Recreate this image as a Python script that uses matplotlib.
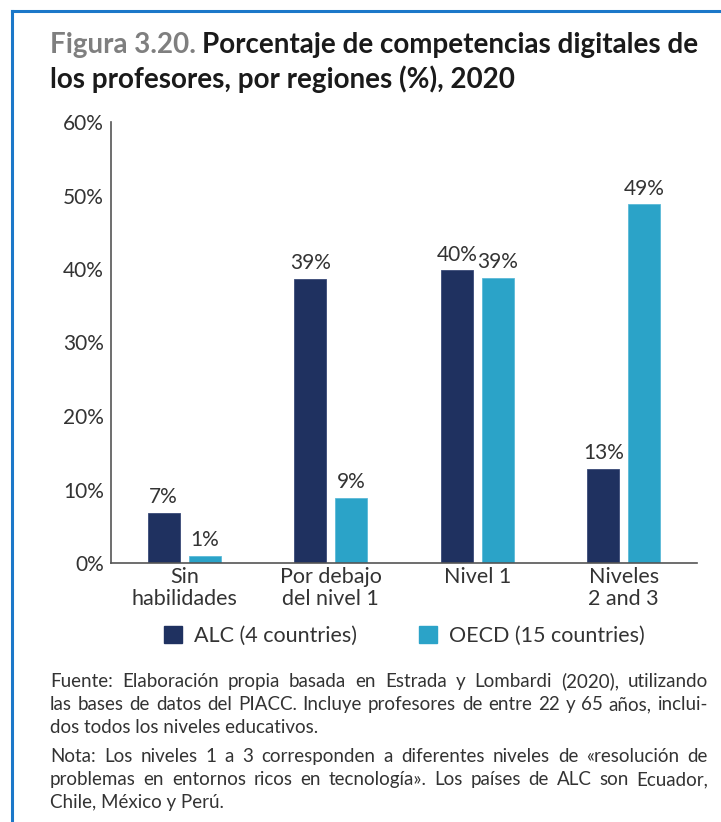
import numpy as np
import matplotlib.pyplot as plt
from matplotlib.lines import Line2D
from matplotlib.patches import Patch

# data
categories = ["Sin\nhabilidades", "Por debajo\ndel nivel 1", "Nivel 1", "Niveles\n2 and 3"]
alc = [6.8, 38.7, 39.8, 12.8]
oecd = [1.0, 8.9, 38.8, 48.8]
alc_labels = ["7%", "39%", "40%", "13%"]
oecd_labels = ["1%", "9%", "39%", "49%"]
yticks = [0, 10, 20, 30, 40, 50, 60]

NAVY = "#1f3160"
CYAN = "#2ba3c8"
TXT = "#333333"
FONT = "Lato"

plt.rcParams["font.family"] = [FONT, "DejaVu Sans"]

W, H = 721, 822
fig = plt.figure(figsize=(W / 100, H / 100), dpi=100)
ax = fig.add_axes([111 / W, 1 - 563 / H, (697 - 111) / W, (563 - 122) / H])

x = np.arange(len(categories))
off = 0.14
bw = 0.22
b1 = ax.bar(x - off, alc, bw, color=NAVY, edgecolor="#3a4a78", linewidth=0.6)
b2 = ax.bar(x + off, oecd, bw, color=CYAN, edgecolor="#5bbad8", linewidth=0.6)
for bars, labs in ((b1, alc_labels), (b2, oecd_labels)):
    for r, lab in zip(bars, labs):
        ax.annotate(lab, (r.get_x() + r.get_width() / 2, r.get_height()),
                    xytext=(0, 4), textcoords="offset points", ha="center",
                    va="bottom", fontsize=15, color=TXT)

ax.set_xlim(-0.5, 3.5)
ax.set_ylim(0, 60)
ax.set_yticks(yticks)
ax.set_yticklabels([f"{v}%" for v in yticks], fontsize=15, color=TXT)
ax.set_xticks(x)
ax.set_xticklabels(categories, fontsize=15.5, color=TXT, linespacing=1.1)
ax.tick_params(axis="y", length=0, pad=5)
ax.tick_params(axis="x", length=0, pad=3)
for s in ("top", "right"):
    ax.spines[s].set_visible(False)
for s in ("left", "bottom"):
    ax.spines[s].set_color("#555555")
    ax.spines[s].set_linewidth(1.2)

for col, lab, lx in ((NAVY, "ALC (4 countries)", 164), (CYAN, "OECD (15 countries)", 419)):
    fig.legend(handles=[Patch(color=col, label=lab)], loc="center left",
               bbox_to_anchor=(lx / W, 1 - 636 / H), frameon=False,
               fontsize=15.5, handlelength=0.85, handleheight=0.85,
               handletextpad=0.55, borderpad=0, borderaxespad=0,
               labelcolor=TXT)

# blue frame
fig.add_artist(Line2D([12 / W, 1], [1 - 11 / H] * 2, color="#1b78c9", lw=2.2))
fig.add_artist(Line2D([12 / W] * 2, [0, 1 - 11 / H], color="#1b78c9", lw=2.2))

fig.canvas.draw()
rend = fig.canvas.get_renderer()


def width(t):
    return t.get_window_extent(rend).width


# title
x0 = 50
t1 = fig.text(x0 / W, 1 - 53 / H, "Figura 3.20.", fontsize=20, weight="bold",
              color="#7f7f7f")
fig.text((x0 + width(t1) + 6) / W, 1 - 53 / H,
         "Porcentaje de competencias digitales de", fontsize=20,
         weight="bold", color="#1a1a1a")
fig.text(x0 / W, 1 - 88 / H, "los profesores, por regiones (%), 2020",
         fontsize=20, weight="bold", color="#1a1a1a")

# footer, justified
paras = [
    ["Fuente: Elaboración propia basada en Estrada y Lombardi (2020), utilizando",
     "las bases de datos del PIACC. Incluye profesores de entre 22 y 65 años, inclui-",
     "dos todos los niveles educativos."],
    ["Nota: Los niveles 1 a 3 corresponden a diferentes niveles de «resolución de",
     "problemas en entornos ricos en tecnología». Los países de ALC son Ecuador,",
     "Chile, México y Perú."],
]
ys = [[687, 710, 733], [762, 785, 808]]
xl, xr = 50, 708
for lines, yy in zip(paras, ys):
    for i, (line, y) in enumerate(zip(lines, yy)):
        if i == len(lines) - 1:
            fig.text(xl / W, 1 - y / H, line, fontsize=13.5, color=TXT)
            continue
        words = line.split(" ")
        ts = [fig.text(0, 1 - y / H, w, fontsize=13.5, color=TXT) for w in words]
        ws = [width(t) for t in ts]
        gap = (xr - xl - sum(ws)) / (len(words) - 1)
        cx = xl
        for t, w in zip(ts, ws):
            t.set_x(cx / W)
            cx += w + gap

fig.savefig("out.png", dpi=100)
